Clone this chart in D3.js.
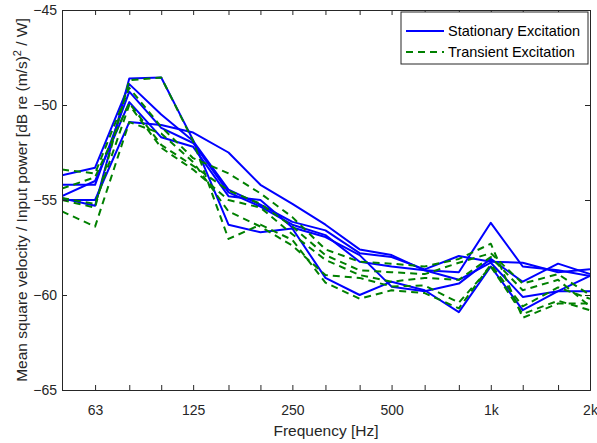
<!DOCTYPE html>
<html>
<head>
<meta charset="utf-8">
<script src="https://cdn.jsdelivr.net/npm/d3@7"></script>
<style>
html,body{margin:0;padding:0;background:#fff;}
svg{display:block;font-family:"Liberation Sans",Arial,Helvetica,sans-serif;}
</style>
</head>
<body>
<svg id="chart" width="597" height="443"></svg>
<script>
// Third-octave band centre frequencies [Hz]
const bands = [50,63,80,100,125,160,200,250,315,400,500,630,800,1000,1250,1600,2000];
const xTickValues = [63,125,250,500,1000,2000];
const xTickLabels = ["63","125","250","500","1k","2k"];
const yTickValues = [-65,-60,-55,-50,-45];

// Stationary excitation (dB)
const stationary1 = [-54.9,-55.3,-48.6,-48.55,-51.85,-56.3,-56.7,-56.5,-59.1,-60.0,-59.3,-59.75,-60.9,-58.5,-60.8,-59.8,-59.8];
const stationary2 = [-53.7,-53.3,-48.9,-50.5,-51.9,-54.45,-55.25,-56.15,-56.6,-57.8,-58.0,-58.65,-57.95,-58.25,-58.3,-58.8,-58.65];
const stationary3 = [-54.2,-54.2,-49.3,-51.2,-52.0,-54.6,-55.35,-56.3,-56.85,-58.25,-58.5,-58.7,-58.8,-56.2,-58.5,-58.7,-59.0];
const stationary4 = [-54.8,-54.0,-49.85,-51.7,-52.2,-54.8,-55.0,-56.45,-56.95,-57.9,-59.56,-59.8,-59.4,-58.1,-59.3,-58.35,-58.9];
const stationary5 = [-55.0,-55.0,-50.9,-51.05,-51.45,-52.5,-54.2,-55.2,-56.3,-57.6,-57.9,-58.7,-59.2,-58.3,-60.1,-59.8,-59.0];

// Transient excitation (dB)
const transient1 = [-55.0,-55.4,-48.7,-48.55,-51.9,-57.05,-56.3,-57.1,-59.35,-60.2,-59.75,-59.9,-60.7,-58.4,-60.6,-59.6,-60.2];
const transient2 = [-53.4,-53.6,-49.1,-51.15,-52.8,-53.6,-54.65,-55.9,-57.6,-58.25,-58.35,-58.5,-58.1,-57.3,-61.2,-60.45,-60.45];
const transient3 = [-54.4,-53.8,-49.9,-52.1,-53.2,-54.5,-55.2,-56.4,-57.9,-58.7,-58.8,-58.9,-58.3,-57.8,-59.4,-58.9,-60.0];
const transient4 = [-54.9,-55.2,-50.0,-52.25,-53.4,-55.0,-55.4,-56.8,-58.15,-58.95,-59.3,-59.1,-59.2,-58.0,-59.75,-59.2,-60.6];
const transient5 = [-55.6,-56.4,-50.9,-51.5,-53.0,-55.6,-56.4,-57.4,-58.95,-59.1,-59.55,-59.5,-60.4,-58.5,-61.0,-60.3,-60.8];

const stationarySeries = [stationary1,stationary2,stationary3,stationary4,stationary5];
const transientSeries = [transient1,transient2,transient3,transient4,transient5];
const legendLabels = ["Stationary Excitation","Transient Excitation"];

const blue = "#0000ff", green = "#008000", axisColor = "#262626";
const svg = d3.select("#chart");
const m = {left:62, right:7, top:10, bottom:53};
const W = 597, H = 443;
const pw = W - m.left - m.right, ph = H - m.top - m.bottom;

const x = d3.scaleLog().domain([50,2000]).range([m.left, m.left+pw]);
const y = d3.scaleLinear().domain([-65,-45]).range([m.top+ph, m.top]);

const clipId = "plotclip";
svg.append("defs").append("clipPath").attr("id",clipId)
  .append("rect").attr("x",m.left).attr("y",m.top).attr("width",pw).attr("height",ph);

const line = d3.line().x((d,i)=>x(bands[i])).y(d=>y(d));

const plot = svg.append("g").attr("clip-path","url(#"+clipId+")");
stationarySeries.forEach(s=>{
  plot.append("path").attr("d",line(s)).attr("fill","none")
    .attr("stroke",blue).attr("stroke-width",2).attr("stroke-linejoin","round");
});
transientSeries.forEach(s=>{
  plot.append("path").attr("d",line(s)).attr("fill","none")
    .attr("stroke",green).attr("stroke-width",2).attr("stroke-dasharray","7,5").attr("stroke-linejoin","round");
});

// Axes (MATLAB-like box with inward ticks)
const fs = 14;
const xb = d3.axisBottom(x).tickValues(bands).tickSize(-5).tickFormat(d=>{
  const k = xTickValues.indexOf(d); return k>=0 ? xTickLabels[k] : "";
});
const gx = svg.append("g").attr("transform",`translate(0,${m.top+ph})`).call(xb);
gx.selectAll("text").attr("font-size",fs).attr("fill",axisColor).attr("y",3).attr("dy","1.6em");
const xt = d3.axisTop(x).tickValues(bands).tickSize(-5).tickFormat("");
const gxt = svg.append("g").attr("transform",`translate(0,${m.top})`).call(xt);

const yl = d3.axisLeft(y).tickValues(yTickValues).tickSize(-5).tickFormat(d3.format("d"));
const gy = svg.append("g").attr("transform",`translate(${m.left},0)`).call(yl);
gy.selectAll("text").attr("font-size",fs).attr("fill",axisColor).attr("x",-5);
const yr = d3.axisRight(y).tickValues(yTickValues).tickSize(-5).tickFormat("");
const gyr = svg.append("g").attr("transform",`translate(${m.left+pw},0)`).call(yr);

[gx,gxt,gy,gyr].forEach(g=>{
  g.selectAll("path.domain").attr("stroke",axisColor).attr("stroke-width",1);
  g.selectAll(".tick line").attr("stroke",axisColor).attr("stroke-width",1);
  g.attr("font-family",null);
});

// Axis labels
svg.append("text").attr("x",m.left+pw/2).attr("y",436).attr("text-anchor","middle")
  .attr("font-size",15.5).attr("fill",axisColor).text("Frequency [Hz]");
const ylab = svg.append("text").attr("transform",`translate(27,${m.top+ph/2}) rotate(-90)`)
  .attr("text-anchor","middle").attr("font-size",15.5).attr("fill",axisColor);
ylab.append("tspan").text("Mean square velocity / Input power [dB re (m/s)");
ylab.append("tspan").attr("baseline-shift","super").attr("font-size",11).text("2");
ylab.append("tspan").text(" / W]");

// Legend
const lg = svg.append("g");
const lx = 401, ly = 12, lw = 187, lh = 52;
lg.append("rect").attr("x",lx).attr("y",ly).attr("width",lw).attr("height",lh)
  .attr("fill","#fff").attr("stroke",axisColor).attr("stroke-width",1);
[[blue,null],[green,"7,5"]].forEach((st,i)=>{
  const yy = ly + 19 + i*21;
  lg.append("line").attr("x1",lx+5).attr("x2",lx+43).attr("y1",yy).attr("y2",yy)
    .attr("stroke",st[0]).attr("stroke-width",2).attr("stroke-dasharray",st[1]);
  lg.append("text").attr("x",lx+47).attr("y",yy).attr("dy","0.35em")
    .attr("font-size",14.5).attr("fill","#000").text(legendLabels[i]);
});
</script>
</body>
</html>
